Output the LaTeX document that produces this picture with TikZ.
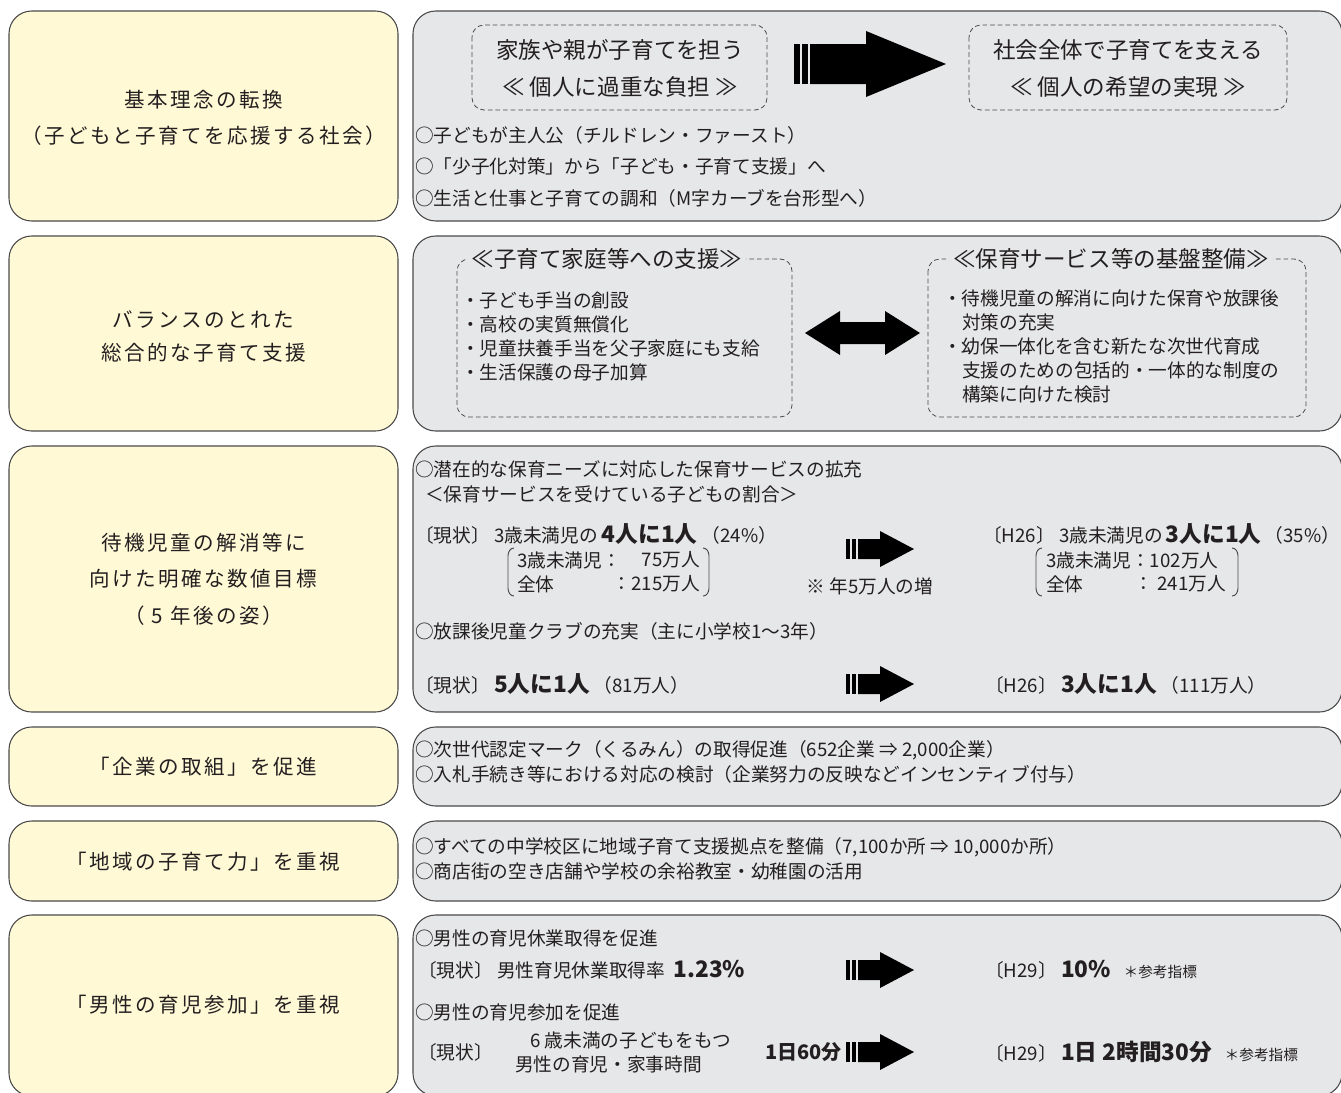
\documentclass[tikz,border=0pt]{standalone}
\usepackage{fontspec}
\setmainfont{Noto Sans CJK JP}
\newfontfamily\jpls[LetterSpace=12]{Noto Sans CJK JP}
\definecolor{cream}{HTML}{FFF9D6}
\definecolor{panelc}{HTML}{E6E7E8}
\definecolor{edgec}{HTML}{4A4A4A}
\definecolor{ink}{HTML}{231F20}
\newcommand\hl[1]{{\bfseries\fontsize{17}{20}\selectfont #1}}
\newcommand\hlm[1]{{\bfseries\fontsize{15}{18}\selectfont #1}}
\newcommand\refnote{{\fontsize{11}{13}\selectfont ＊参考指標}}
% #1 x0, #2 shaft start, #3 head start, #4 tip, #5 y, #6 half shaft, #7 half head
\newcommand\thickarrow[7]{%
  \fill (#1,#5-#6) rectangle ({#1+(#2-#1-4)/2},#5+#6);
  \fill ({#1+(#2-#1-4)/2+2},#5-#6) rectangle (#2-2,#5+#6);
  \fill (#2,#5-#6) -- (#3,#5-#6) -- (#3,#5-#7) -- (#4,#5) -- (#3,#5+#7) -- (#3,#5+#6) -- (#2,#5+#6) -- cycle;}
\begin{document}
\begin{tikzpicture}[x=0.75pt,y=-0.75pt,
  leftbox/.style={draw=edgec, line width=0.8pt, fill=cream, rounded corners=17pt},
  rightbox/.style={draw=edgec, line width=0.8pt, fill=panelc, rounded corners=17pt},
  dashbox/.style={draw=edgec, line width=0.6pt, dash pattern=on 3.5pt off 2.2pt, rounded corners=9pt},
  lt/.style={font=\jpls\fontsize{15.4}{27.5}\selectfont, align=center, text=ink, inner sep=0pt},
  body/.style={font=\fontsize{14}{17}\selectfont, text=ink, inner sep=0pt, anchor=west},
  big/.style={font=\fontsize{16.9}{20}\selectfont, text=ink, inner sep=0pt},
  ttl/.style={big, fill=panelc, inner xsep=3pt, inner ysep=2pt}]
\useasboundingbox (0,0) rectangle (1341,1092);
\fill[white] (0,0) rectangle (1341,1092);
% left boxes
\draw[leftbox] (9,11) rectangle (398,221);
\draw[leftbox] (9,236) rectangle (398,431);
\draw[leftbox] (9,446) rectangle (398,712);
\draw[leftbox] (9,727) rectangle (398,806);
\draw[leftbox] (9,821) rectangle (398,901);
\draw[leftbox] (9,915) rectangle (398,1096);
% right panels
\draw[rightbox] (413,11) rectangle (1342,221);
\draw[rightbox] (413,236) rectangle (1342,431);
\draw[rightbox] (413,446) rectangle (1342,712);
\draw[rightbox] (413,727) rectangle (1342,806);
\draw[rightbox] (413,821) rectangle (1342,901);
\draw[rightbox] (413,915) rectangle (1342,1096);
% left titles
\node[lt] (L1) at (203.5,118) {基本理念の転換\\（子どもと子育てを応援する社会）};
\node[lt, font=\jpls\fontsize{15.4}{24.75}\selectfont] (L2) at (203.5,336) {バランスのとれた\\総合的な子育て支援};
\node[lt] (L3) at (203.5,579) {待機児童の解消等に\\向けた明確な数値目標\\（ 5 年後の姿）};
\node[lt] (L4) at (203.5,767) {「企業の取組」を促進};
\node[lt] (L5) at (203.5,862) {「地域の子育て力」を重視};
\node[lt] (L6) at (203.5,1005) {「男性の育児参加」を重視};
% panel 1
\draw[dashbox] (472,25) rectangle (767,110);
\draw[dashbox] (969,25) rectangle (1287,110);
\node[big] (A1) at (620,50) {家族や親が子育てを担う};
\node[big] (A2) at (620,87) {≪ 個人に過重な負担 ≫};
\node[big] (B1) at (1128,50) {社会全体で子育てを支える};
\node[big] (B2) at (1128,87) {≪ 個人の希望の実現 ≫};
\thickarrow{794}{810}{866}{946}{64}{20}{33}
\node[body] (P1a) at (415,135) {○子どもが主人公（チルドレン・ファースト）};
\node[body] (P1b) at (415,166) {○「少子化対策」から「子ども・子育て支援」へ};
\node[body] (P1c) at (415,198) {○生活と仕事と子育ての調和（M字カーブを台形型へ）};
% panel 2
\draw[dashbox] (457,259) rectangle (792,417);
\draw[dashbox] (928,259) rectangle (1306,417);
\node[ttl] (T2a) at (607,259) {≪子育て家庭等への支援≫};
\node[ttl] (T2b) at (1111,259) {≪保育サービス等の基盤整備≫};
\node[body] (S1) at (461,300) {・子ども手当の創設};
\node[body] (S2) at (461,324) {・高校の実質無償化};
\node[body] (S3) at (461,348) {・児童扶養手当を父子家庭にも支給};
\node[body] (S4) at (461,372) {・生活保護の母子加算};
\node[body] (R1) at (943,298) {・待機児童の解消に向けた保育や放課後};
\node[body] (R2) at (962,322) {対策の充実};
\node[body] (R3) at (943,346) {・幼保一体化を含む新たな次世代育成};
\node[body] (R4) at (962,370) {支援のための包括的・一体的な制度の};
\node[body] (R5) at (962,394) {構築に向けた検討};
\fill (805,333) -- (840,311) -- (840,322) -- (885,322) -- (885,311) -- (920,333)
  -- (885,355) -- (885,344) -- (840,344) -- (840,355) -- cycle;
% panel 3
\node[body] (Q1) at (415,469) {○潜在的な保育ニーズに対応した保育サービスの拡充};
\node[body] (Q2) at (425,494) {＜保育サービスを受けている子どもの割合＞};
\node[body] (Q3) at (415,534) {〔現状〕\ 3歳未満児の\ \hl{4人に1人}\ （24\%）};
\node[body] (Q3a) at (517,560) {3歳未満児：};
\node[body, anchor=east] (Q3b) at (700,560) {75万人};
\node[body] (Q3c) at (517,584) {全体};
\node[body, anchor=east] (Q3d) at (700,584) {：215万人};
\draw[edgec, line width=0.7pt] (514,548) to[out=180,in=90] (508,556) -- (508,588) to[out=-90,in=180] (514,596);
\draw[edgec, line width=0.7pt] (703,548) to[out=0,in=90] (709,556) -- (709,588) to[out=-90,in=0] (703,596);
\thickarrow{846}{858}{880}{914}{549}{10}{18}
\node[body, anchor=center] (Q4) at (870,586) {※ 年5万人の増};
\node[body] (Q5) at (983,534) {〔H26〕\ 3歳未満児の\,\hl{3人に1人}\,（35\%）};
\node[body] (Q5a) at (1046,560) {3歳未満児：102万人};
\node[body] (Q5c) at (1046,584) {全体};
\node[body, anchor=east] (Q5d) at (1226,584) {：\ 241万人};
\draw[edgec, line width=0.7pt] (1042,548) to[out=180,in=90] (1036,556) -- (1036,588) to[out=-90,in=180] (1042,596);
\draw[edgec, line width=0.7pt] (1232,548) to[out=0,in=90] (1238,556) -- (1238,588) to[out=-90,in=0] (1232,596);
\node[body] (Q6) at (415,631) {○放課後児童クラブの充実（主に小学校1〜3年）};
\node[body] (Q7) at (415,684) {〔現状〕\ \hl{5人に1人}\ （81万人）};
\thickarrow{846}{858}{880}{914}{684}{10}{18}
\node[body] (Q8) at (985,684) {〔H26〕\ \hl{3人に1人}\ （111万人）};
% panel 4
\node[body] (E1) at (415,750) {○次世代認定マーク（くるみん）の取得促進（652企業 ⇒ 2,000企業）};
\node[body] (E2) at (415,774) {○入札手続き等における対応の検討（企業努力の反映などインセンティブ付与）};
% panel 5
\node[body] (C1) at (415,847) {○すべての中学校区に地域子育て支援拠点を整備（7,100か所 ⇒ 10,000か所）};
\node[body] (C2) at (415,871) {○商店街の空き店舗や学校の余裕教室・幼稚園の活用};
% panel 6
\node[body] (M1) at (415,938) {○男性の育児休業取得を促進};
\node[body] (M2) at (418,970) {〔現状〕\ 男性育児休業取得率\ \ \hl{1.23\%}};
\thickarrow{846}{858}{880}{914}{970}{10}{18}
\node[body] (M3) at (985,970) {〔H29〕\ \hl{10\%}\ \ \ \refnote};
\node[body] (M4) at (415,1012) {○男性の育児参加を促進};
\node[body] (M5) at (418,1052) {〔現状〕};
\node[body] (M6) at (530,1040) {6 歳未満の子どもをもつ};
\node[body] (M7) at (515,1064) {男性の育児・家事時間};
\node[body, anchor=east] (M8) at (842,1052) {\hlm{1日60分}};
\thickarrow{846}{858}{880}{914}{1052}{10}{18}
\node[body] (M9) at (985,1052) {〔H29〕\ \hl{1日 2時間30分}\ \ \ \refnote};
\end{tikzpicture}
\end{document}
